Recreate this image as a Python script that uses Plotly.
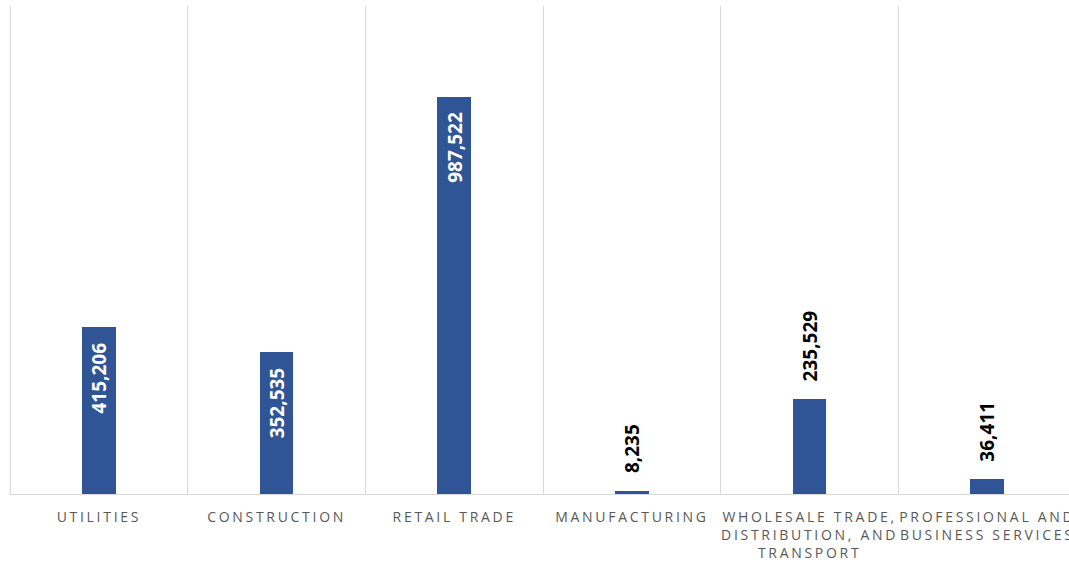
import plotly.graph_objects as go

# Industry categories and totals
categories = [
    "UTILITIES",
    "CONSTRUCTION",
    "RETAIL TRADE",
    "MANUFACTURING",
    "WHOLESALE TRADE,<br>DISTRIBUTION, AND<br>TRANSPORT",
    "PROFESSIONAL AND<br>BUSINESS SERVICES",
]
values = [415206, 352535, 987522, 8235, 235529, 36411]
label_positions = ["inside", "inside", "inside", "outside", "outside", "outside"]

BAR_COLOR = "#2F5597"
GRID_COLOR = "#D9D9D9"
LABEL_FONT = "Open Sans"

fig = go.Figure(
    go.Bar(
        x=categories,
        y=values,
        width=0.19,
        marker=dict(color=BAR_COLOR, line=dict(width=0)),
        hoverinfo="x+y",
    )
)

# value labels, rotated to read upwards: white inside tall bars, black above short ones
for cat, val, pos in zip(categories, values, label_positions):
    inside = pos == "inside"
    fig.add_annotation(
        x=cat,
        y=val,
        text=f"{val:,}",
        textangle=-90,
        showarrow=False,
        xanchor="center",
        yanchor="top" if inside else "bottom",
        yshift=-14 if inside else 17,
        borderpad=0,
        font=dict(
            family=LABEL_FONT,
            size=19,
            weight="bold",
            color="#FFFFFF" if inside else "#000000",
        ),
    )

fig.update_layout(
    width=1069,
    height=564,
    margin=dict(l=9, r=0, t=6, b=70),
    paper_bgcolor="white",
    plot_bgcolor="white",
    showlegend=False,
    bargap=0,
    xaxis=dict(
        type="category",
        range=[-0.506, 5.46],
        tickangle=0,
        tickson="boundaries",
        showgrid=True,
        gridcolor=GRID_COLOR,
        gridwidth=1,
        showline=True,
        linecolor=GRID_COLOR,
        linewidth=1,
        ticks="",
        ticklabelstandoff=10,
        tickfont=dict(family="Open Sans", size=14, color="#595959"),
        zeroline=False,
    ),
    yaxis=dict(
        range=[0, 1214000],
        showgrid=False,
        showticklabels=False,
        zeroline=False,
        showline=False,
    ),
)

spacing_js = (
    "document.querySelectorAll('.xtick text').forEach(function(t){"
    "t.style.letterSpacing='2.7px';});"
)

fig.write_html("out.html", post_script=spacing_js)
